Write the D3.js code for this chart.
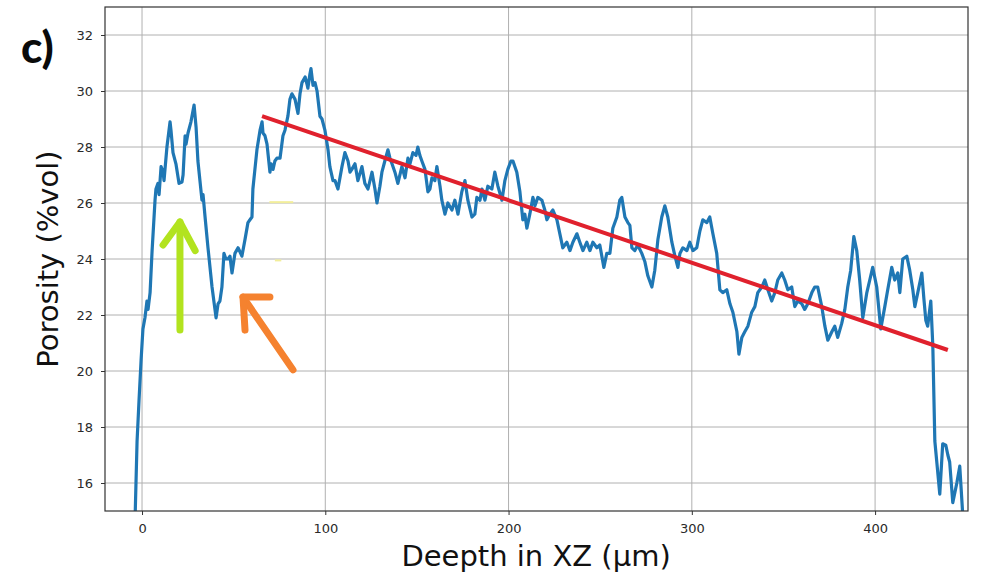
<!DOCTYPE html>
<html>
<head>
<meta charset="utf-8">
<script src="https://cdn.jsdelivr.net/npm/d3@7"></script>
<style>
	html, body { margin: 0; padding: 0; background: #fff; }
	svg { display: block; }
	.tick text { font-family: 'DejaVu Sans', sans-serif; font-size: 13px; fill: #2a2a2a; }
	.axis-title { font-family: 'DejaVu Sans', sans-serif; font-size: 29px; fill: #111; }
</style>
</head>
<body>
<svg id="chart"></svg>
<script>
// depth (µm) and porosity (%vol)
const depth = [
	-3.8, -2.7, -1.6, -0.5, 0.5, 1.6, 2.7, 3.3, 4.4, 5.5, 7.1, 7.6, 8.7, 9.3, 10.4, 11.5, 12.0,
	13.6, 15.3, 15.8, 16.9, 18.5, 20.2, 21.8, 22.4, 23.5, 24.0, 25.1, 26.7, 28.4, 29.5, 30.5,
	32.7, 33.3, 34.4, 36.0, 38.2, 39.8, 40.4, 41.5, 42.5, 43.6, 44.7, 45.8, 46.9, 48.0, 49.1,
	50.7, 52.4, 53.5, 54.5, 56.2, 57.8, 58.9, 60.0, 60.5, 61.6, 62.7, 64.4, 65.5, 66.0, 67.1,
	68.2, 69.8, 70.4, 71.5, 72.5, 73.6, 75.3, 76.9, 78.0, 79.6, 80.7, 81.8, 83.5, 85.1, 86.2,
	87.3, 89.0, 90.0, 90.5, 91.6, 92.2, 93.3, 94.4, 95.5, 97.1, 98.2, 99.8, 101.5, 102.5, 104.2,
	105.3, 106.9, 109.1, 110.7, 112.4, 113.5, 114.5, 116.2, 117.8, 120.0, 121.6, 123.3, 125.5,
	127.1, 128.2, 129.8, 130.9, 132.5, 134.2, 135.3, 136.4, 138.0, 139.6, 141.8, 143.5, 145.1,
	146.2, 147.8, 149.5, 150.5, 151.6, 152.7, 154.4, 156.0, 157.1, 158.2, 159.8, 160.9, 162.6,
	163.6, 165.3, 166.9, 169.1, 170.7, 172.4, 174.5, 176.2, 177.8, 180.0, 181.6, 182.7, 184.4,
	185.5, 187.1, 188.7, 190.9, 192.5, 194.2, 196.4, 198.0, 199.6, 201.3, 202.4, 204.5, 206.2,
	207.8, 208.9, 210.0, 211.6, 213.3, 214.4, 216.0, 218.2, 219.8, 220.9, 222.5, 224.2, 226.4,
	228.0, 229.6, 231.8, 233.5, 235.1, 237.3, 238.9, 240.6, 242.7, 244.4, 246.0, 248.2, 249.8,
	250.9, 252.0, 253.6, 255.3, 256.9, 259.1, 260.7, 261.8, 263.5, 265.1, 266.2, 267.3, 268.9,
	270.5, 272.7, 274.4, 276.0, 278.2, 279.8, 281.5, 283.6, 285.3, 286.9, 289.1, 290.8, 292.4,
	293.5, 295.1, 297.3, 298.9, 300.6, 302.7, 304.4, 306.0, 308.2, 309.8, 311.5, 313.6, 315.3,
	316.9, 319.1, 320.8, 322.4, 324.6, 325.7, 327.3, 328.9, 330.6, 332.7, 334.4, 336.0, 338.2,
	339.8, 341.5, 343.6, 345.3, 346.9, 349.1, 350.7, 352.4, 354.5, 356.2, 357.8, 360.0, 361.6,
	363.3, 365.5, 367.1, 368.7, 370.9, 372.6, 374.2, 376.4, 378.0, 379.6, 381.8, 383.5, 385.1,
	386.7, 388.4, 390.0, 391.6, 393.3, 395.5, 397.1, 398.7, 400.9, 403.1, 405.3, 406.9, 409.1,
	410.7, 412.4, 413.5, 415.1, 417.3, 418.9, 420.6, 421.7, 423.3, 425.5, 426.6, 427.7, 428.7,
	430.4, 431.5, 432.6, 433.6, 435.3, 436.9, 438.6, 439.7, 440.7, 442.4, 444.6, 446.2, 447.8
];
const porosity = [
	14.7, 17.5, 19.0, 20.4, 21.5, 21.9, 22.5, 22.2, 22.8, 24.3, 26.1, 26.5, 26.7, 26.3, 27.3, 27.1, 26.8,
	28.0, 28.9, 28.6, 27.8, 27.4, 26.7, 26.75, 27.0, 28.4, 28.1, 28.5, 28.9, 29.5, 28.7, 27.5,
	26.1, 26.3, 25.5, 24.4, 23.0, 22.2, 21.9, 22.4, 22.5, 23.0, 24.2, 24.0, 24.0, 24.1, 23.5,
	24.2, 24.4, 24.25, 24.1, 24.7, 25.3, 25.4, 25.5, 26.5, 27.2, 27.9, 28.6, 28.9, 28.5, 28.4,
	28.1, 27.1, 27.4, 27.2, 27.5, 27.6, 27.6, 28.4, 28.6, 29.1, 29.7, 29.9, 29.7, 29.2, 29.9,
	30.3, 30.5, 30.25, 30.1, 30.6, 30.8, 30.2, 30.3, 30.0, 29.1, 29.0, 28.6, 27.9, 27.3, 26.8,
	26.8, 26.5, 27.3, 27.8, 27.5, 27.1, 27.2, 27.4, 26.8, 27.3, 26.7, 26.5, 27.1,
	26.5, 26.0, 26.6, 27.1, 27.5, 27.9, 27.6, 27.4, 27.1, 26.7, 27.3, 26.9, 27.6,
	27.4, 27.8, 27.7, 28.0, 27.7, 27.5, 27.2, 26.4, 26.5, 26.9, 26.8, 27.3, 26.6,
	26.1, 25.6, 26.0, 25.75, 26.1, 25.6, 26.4, 26.8, 26.1, 25.5, 25.6, 26.2, 26.1,
	26.5, 26.1, 26.6, 26.5, 27.1, 26.6, 26.1, 26.8, 27.2, 27.5, 27.5, 27.1, 26.4,
	25.4, 25.6, 25.1, 25.6, 26.2, 25.9, 26.2, 26.1, 25.75, 25.4, 25.6, 25.75, 25.4,
	24.9, 24.4, 24.6, 24.3, 24.6, 24.9, 24.6, 24.3, 24.6, 24.3, 24.6, 24.4, 24.5,
	24.1, 23.7, 24.2, 24.2, 25.1, 25.5, 26.1, 26.2, 25.5, 25.3, 25.2, 24.4, 24.3,
	24.5, 24.2, 23.9, 23.4, 23.0, 23.6, 24.7, 25.5, 25.9, 25.5, 24.6, 24.1, 23.7,
	24.2, 24.4, 24.3, 24.6, 24.3, 24.4, 25.0, 25.4, 25.3, 25.5, 24.9, 24.2, 22.9,
	22.8, 22.9, 22.4, 22.1, 21.4, 20.6, 21.2, 21.4, 21.6, 22.1, 22.3, 22.8, 23.0,
	23.25, 22.9, 22.5, 22.8, 23.25, 23.5, 23.25, 22.9, 23.0, 22.3, 22.5, 22.4, 22.2,
	22.4, 22.8, 23.0, 23.0, 22.3, 21.6, 21.1, 21.4, 21.6, 21.2, 21.7, 22.2, 23.0,
	23.6, 24.8, 24.3, 23.25, 21.9, 22.8, 23.25, 23.7, 23.0, 21.5, 22.3, 22.9, 23.7,
	23.25, 23.5, 22.8, 24.0, 24.1, 23.6, 22.9, 22.3, 22.8, 23.5, 22.6, 21.8, 21.6,
	22.5, 20.9, 17.5, 16.8, 15.6, 17.4, 17.35, 17.0, 16.75, 15.3, 16.0, 16.6, 14.9
];

// red linear trend: start and end
const trendDepth = [65.5, 439.7];
const trendPorosity = [29.1, 20.75];

// hand-drawn arrows (data units)
const greenArrow = [[20.7, 21.46], [20.7, 25.32]];
const greenHead = [[11.5, 24.5], [20.7, 25.32], [29.0, 24.3]];
const orangeArrow = [[82.4, 20.04], [55.1, 22.64]];
const orangeHead = [[69.8, 22.64], [55.1, 22.64], [56.2, 21.46]];
const yellowMarks = [[[69.5, 26.03], [82.5, 26.03]], [[72.5, 23.95], [76.0, 23.95]]];

const xTicks = [0, 100, 200, 300, 400];
const yTicks = [16, 18, 20, 22, 24, 26, 28, 30, 32];

const width = 982, height = 572;
const margin = { top: 7, right: 14, bottom: 61, left: 105 };
const innerW = width - margin.left - margin.right;
const innerH = height - margin.top - margin.bottom;

const svg = d3.select('#chart').attr('width', width).attr('height', height);

const xScale = d3.scaleLinear().domain([-20.2, 450.7]).range([0, innerW]);
const yScale = d3.scaleLinear().domain([15, 33]).range([innerH, 0]);

const chart = svg.append('g').attr('transform', `translate(${margin.left},${margin.top})`);

chart.append('clipPath').attr('id', 'clip')
	.append('rect').attr('width', innerW).attr('height', innerH);

// grid
chart.append('g')
	.selectAll('line')
	.data(xTicks)
	.join('line')
	.attr('x1', d => xScale(d)).attr('x2', d => xScale(d))
	.attr('y1', 0).attr('y2', innerH)
	.attr('stroke', '#b0b0b0').attr('stroke-width', 1);

chart.append('g')
	.selectAll('line')
	.data(yTicks)
	.join('line')
	.attr('x1', 0).attr('x2', innerW)
	.attr('y1', d => yScale(d)).attr('y2', d => yScale(d))
	.attr('stroke', '#b0b0b0').attr('stroke-width', 1);

const plot = chart.append('g').attr('clip-path', 'url(#clip)');

const series = depth.map((d, i) => ({ x: d, y: porosity[i] }));

const line = d3.line().x(d => xScale(d[0])).y(d => yScale(d[1]));

// faint yellow leftovers
plot.selectAll('path.yellow')
	.data(yellowMarks)
	.join('path')
	.attr('class', 'yellow')
	.attr('d', line)
	.attr('stroke', '#f2ee9a').attr('stroke-width', 2).attr('fill', 'none');

plot.append('path')
	.datum(series)
	.attr('fill', 'none')
	.attr('stroke', '#1f77b4')
	.attr('stroke-width', 3.2)
	.attr('stroke-linejoin', 'round')
	.attr('d', d3.line().x(d => xScale(d.x)).y(d => yScale(d.y)));

plot.append('path')
	.datum(trendDepth.map((d, i) => [d, trendPorosity[i]]))
	.attr('fill', 'none')
	.attr('stroke', '#e0212d')
	.attr('stroke-width', 4)
	.attr('d', line);

// arrows
const drawArrow = (pts, color) => {
	plot.append('path')
		.datum(pts)
		.attr('d', line)
		.attr('fill', 'none')
		.attr('stroke', color)
		.attr('stroke-width', 7)
		.attr('stroke-linecap', 'round')
		.attr('stroke-linejoin', 'round');
};
drawArrow(greenArrow, '#b2e31f');
drawArrow(greenHead, '#b2e31f');
drawArrow(orangeArrow, '#f5822f');
drawArrow(orangeHead, '#f5822f');

// axes
const xAxis = d3.axisBottom(xScale).tickValues(xTicks).tickSize(4).tickPadding(9).tickSizeOuter(0);
const yAxis = d3.axisLeft(yScale).tickValues(yTicks).tickSize(4).tickPadding(8).tickSizeOuter(0);

const xAxisG = chart.append('g').attr('transform', `translate(0,${innerH})`).call(xAxis);
const yAxisG = chart.append('g').call(yAxis);
[xAxisG, yAxisG].forEach(g => {
	g.select('.domain').remove();
	g.selectAll('.tick line').attr('stroke', '#333');
});

// frame
chart.append('rect')
	.attr('width', innerW).attr('height', innerH)
	.attr('fill', 'none').attr('stroke', '#333').attr('stroke-width', 1.2);

// titles
svg.append('text')
	.attr('class', 'axis-title')
	.attr('x', margin.left + xScale(215))
	.attr('y', 566)
	.attr('text-anchor', 'middle')
	.text('Deepth in XZ (µm)');

svg.append('text')
	.attr('class', 'axis-title')
	.attr('transform', `translate(58,${margin.top + yScale(24)}) rotate(-90)`)
	.attr('text-anchor', 'middle')
	.text('Porosity (%vol)');

svg.append('text')
	.attr('x', 21)
	.attr('y', 63)
	.style('font-family', 'Lato, "Open Sans", sans-serif')
	.style('font-weight', 900)
	.style('font-size', '44px')
	.style('fill', '#0a0a0a')
	.text('c)');
</script>
</body>
</html>
